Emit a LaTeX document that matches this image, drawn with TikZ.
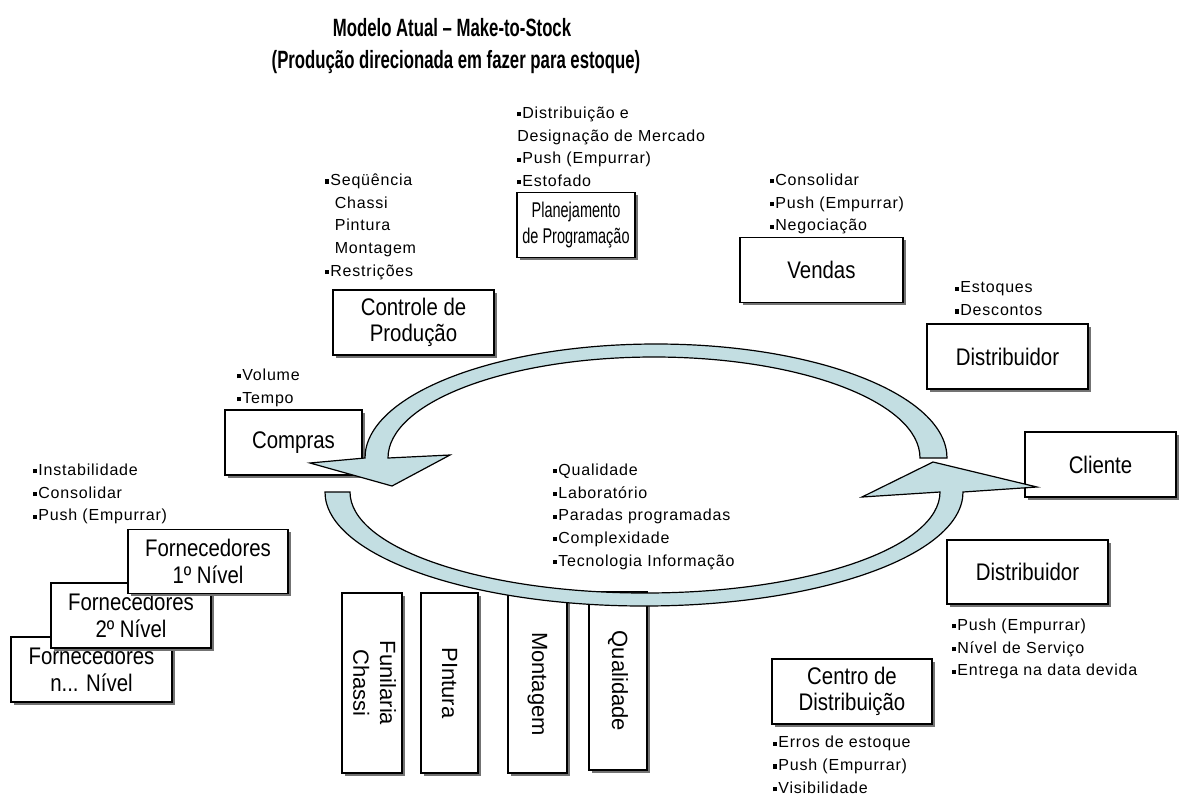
\documentclass[tikz,border=0pt]{standalone}
\usepackage{fontspec}
\setmainfont{Liberation Sans}[LetterSpace=5]
\newfontfamily\titlefont{Liberation Sans}[FakeStretch=0.67]
\newfontfamily\boxfont{Liberation Sans}[FakeStretch=0.85]
\newfontfamily\planfont{Liberation Sans}[FakeStretch=0.68]
\newfontfamily\vfont{Liberation Sans}
\usetikzlibrary{shadows}
\definecolor{flowblue}{RGB}{195,222,226}
\newcommand{\bl}{\raisebox{0.12em}{\rule{0.26em}{0.26em}}\hspace{0.06em}}

\begin{document}
\begin{tikzpicture}[x=0.75pt,y=-0.75pt,
  sz/.style 2 args={minimum width=#1*0.75pt, minimum height=#2*0.75pt},
  box/.style={draw=black, line width=0.9pt, fill=white, inner sep=0pt, align=center,
    font=\boxfont\fontsize{18}{20}\selectfont,
    drop shadow={shadow xshift=2pt, shadow yshift=-2pt, fill=black!55, opacity=1}},
  vbox/.style={box, font=\vfont\fontsize{16.5}{20}\selectfont},
  note/.style={anchor=north west, inner sep=0pt, align=left, font=\fontsize{12}{17}\selectfont},
  title/.style={anchor=base, inner sep=0pt, font=\titlefont\bfseries\fontsize{18.75}{22}\selectfont},
  flow/.style={draw=black, line width=0.9pt, fill=flowblue}]
\fill[white] (0,0) rectangle (1181,797);
\useasboundingbox (0,0) rectangle (1181,797);

\node[title] (title1) at (452,36) {Modelo Atual – Make-to-Stock};
\node[title] (title2) at (456,68) {(Produção direcionada em fazer para estoque)};

\node[note] (nplan) at (517,106.5) {\bl Distribuição e\\Designação de Mercado\\\bl Push (Empurrar)\\\bl Estofado};
\node[note] (nctrl) at (325,173.5) {\bl Seqüência\\\hspace*{0.6em}Chassi\\\hspace*{0.6em}Pintura\\\hspace*{0.6em}Montagem\\\bl Restrições};
\node[note] (nvend) at (770,173.5) {\bl Consolidar\\\bl Push (Empurrar)\\\bl Negociação};
\node[note] (ndist1) at (955,281.5) {\bl Estoques\\\bl Descontos};
\node[note] (ncomp) at (237,368.5) {\bl Volume\\\bl Tempo};
\node[note] (nforn) at (33,463.5) {\bl Instabilidade\\\bl Consolidar\\\bl Push (Empurrar)};
\node[note] (nprod) at (553,463.5) {\bl Qualidade\\\bl Laboratório\\\bl Paradas programadas\\\bl Complexidade\\\bl Tecnologia Informação};
\node[note] (ndist2) at (952,618.5) {\bl Push (Empurrar)\\\bl Nível de Serviço\\\bl Entrega na data devida};
\node[note] (ncd) at (773,736) {\bl Erros de estoque\\\bl Push (Empurrar)\\\bl Visibilidade};

\node[box, sz={161}{65}] (ctrl) at (413.5,322.5) {Controle de\\Produção};
\node[box, sz={118}{65}, font=\planfont\fontsize{16}{19}\selectfont] (plan) at (576,225) {Planejamento\\de Programação};
\node[box, sz={163}{65}] (vendas) at (821.5,270) {Vendas};
\node[box, sz={161}{65}] (dist1) at (1007.5,356.5) {Distribuidor};
\node[box, sz={137}{65}] (compras) at (293.5,442.5) {Compras};
\node[box, sz={151}{65}] (cliente) at (1100.5,464.5) {Cliente};
\node[box, sz={161}{64}] (dist2) at (1027.5,572) {Distribuidor};
\node[box, sz={160}{65}] (cd) at (852,691.5) {Centro de\\Distribuição};

\node[box, sz={161}{65}] (fornn) at (91.5,669.5) {Fornecedores\\n... Nível};
\node[box, sz={160}{65}] (forn2) at (131,615.5) {Fornecedores\\2º Nível};
\node[box, sz={160}{64}] (forn1) at (208,561.5) {Fornecedores\\1º Nível};

\node[vbox, sz={60}{180}] (funil) at (372,683) {\rotatebox{-90}{\begin{tabular}{@{}c@{}}Funilaria\\Chassi\end{tabular}}};
\node[vbox, sz={57}{180}] (pint) at (449.5,683) {\rotatebox{-90}{PIntura}};
\node[vbox, sz={59}{178}] (mont) at (537.5,684) {\rotatebox{-90}{Montagem}};
\node[vbox, sz={58}{178}] (qual) at (618,681) {\rotatebox{-90}{Qualidade}};

\draw[flow] (947,458) arc[start angle=0, end angle=-180, x radius=291, y radius=114]
  -- (310,463) -- (392,486) -- (450,455) -- (388,458)
  arc[start angle=-180, end angle=0, x radius=266, y radius=101] -- cycle;
\draw[flow] (325,492) arc[start angle=180, end angle=0, x radius=319, y radius=114]
  -- (1037,487) -- (933,462) -- (862,497) -- (940,492)
  arc[start angle=0, end angle=180, x radius=295, y radius=101] -- cycle;
\end{tikzpicture}
\end{document}
